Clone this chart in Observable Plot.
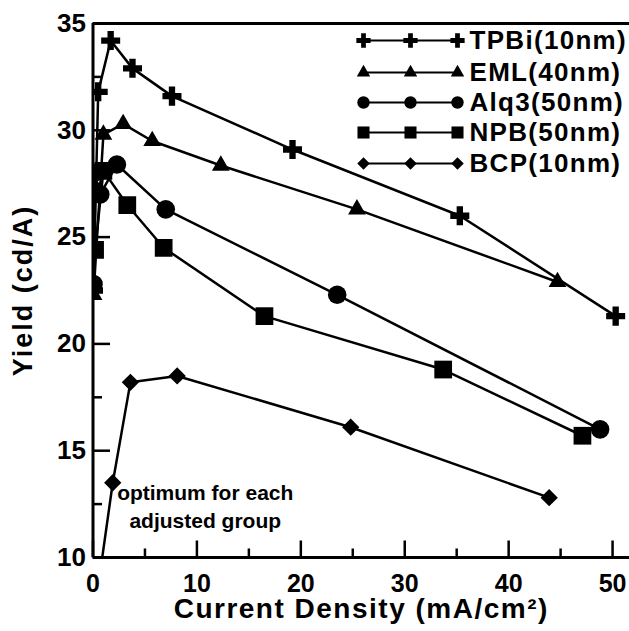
<!DOCTYPE html>
<html><head><meta charset="utf-8">
<script src="https://cdn.jsdelivr.net/npm/d3@7"></script>
<script src="https://cdn.jsdelivr.net/npm/@observablehq/plot@0.6"></script>
<style>
body{margin:0;background:#fff;}
#wrap{width:629px;height:631px;background:#fff;}
</style></head><body><div id="wrap"></div>
<script>
// ---- data ----
const seriesNames = ["TPBi(10nm)", "EML(40nm)", "Alq3(50nm)", "NPB(50nm)", "BCP(10nm)"];

const tpbiX = [0.05, 0.5, 1.7, 3.8, 7.6, 19.2, 35.3, 50.3];
const tpbiY = [22.5, 31.8, 34.2, 32.9, 31.6, 29.1, 26.0, 21.3];

const emlX = [0.05, 1.0, 2.9, 5.7, 12.3, 25.4, 44.7];
const emlY = [22.3, 29.8, 30.3, 29.5, 28.35, 26.3, 22.9];

const alq3X = [0.05, 0.1, 0.7, 2.3, 7.0, 23.5, 48.8];
const alq3Y = [22.8, 28.0, 27.0, 28.4, 26.3, 22.3, 16.0];

const npbX = [0.2, 1.0, 3.3, 6.8, 16.5, 33.7, 47.1];
const npbY = [24.4, 28.1, 26.5, 24.5, 21.3, 18.8, 15.7];

const bcpX = [0.6, 1.9, 3.6, 8.1, 24.8, 43.9];
const bcpY = [9.0, 13.5, 18.2, 18.5, 16.1, 12.8];

const xTickLabels = [0, 10, 20, 30, 40, 50];
const xMinorTicks = [5, 15, 25, 35, 45];
const yTickLabels = [10, 15, 20, 25, 30, 35];
const yMinorTicks = [12.5, 17.5, 22.5, 27.5, 32.5];

const noteX = [10.8];
const noteY = [12.45];
const noteText = ["optimum for each\nadjusted group"];

// ---- layout ----
const W = 629, H = 631, ML = 92.5, MR = 0, MT = 23, MB = 74;
const frameW = W - ML - MR, frameH = H - MT - MB;
const xDomain = [0, 51.63], yDomain = [10, 35];
const xPerPx = (xDomain[1] - xDomain[0]) / frameW;
const yPerPx = (yDomain[1] - yDomain[0]) / frameH;
const pxToX = px => xDomain[0] + (px - ML) * xPerPx;
const pxToY = py => yDomain[0] + (H - MB - py) * yPerPx;
const majorLen = 17, minorLen = 9;
const font = "'Liberation Sans', Arial, Helvetica, sans-serif";

// ---- build ----
const rows = (xs, ys) => xs.map((x, i) => ({x, y: ys[i]}));
const series = [
  {name: seriesNames[0], data: rows(tpbiX, tpbiY), symbol: "cross", r: 8.0, lr: 6.0, rot: 0},
  {name: seriesNames[1], data: rows(emlX, emlY), symbol: "triangle", r: 6.6, lr: 5.0, rot: 0},
  {name: seriesNames[2], data: rows(alq3X, alq3Y), symbol: "circle", r: 9.3, lr: 6.2, rot: 0},
  {name: seriesNames[3], data: rows(npbX, npbY), symbol: "square", r: 10.0, lr: 6.8, rot: 0},
  {name: seriesNames[4], data: rows(bcpX, bcpY), symbol: "square", r: 6.9, lr: 5.0, rot: 45}
];

// legend placement (inside the frame, top right), from pixel layout
const legendKeyPx = [363, 410, 457];
const legendRowPx = [40, 72, 102, 132, 163];
const legendRows = [];
series.forEach((s, i) => legendKeyPx.forEach(px => legendRows.push({series: s.name, x: pxToX(px), y: pxToY(legendRowPx[i])})));
const legendLabels = series.map((s, i) => ({name: s.name, x: pxToX(legendKeyPx[2]), y: pxToY(legendRowPx[i])}));

const tickLinksX = (vals, len) => vals.map(v => ({x1: v, x2: v, y1: yDomain[0], y2: yDomain[0] + len * yPerPx}));
const tickLinksY = (vals, len) => vals.map(v => ({x1: xDomain[0], x2: xDomain[0] + len * xPerPx, y1: v, y2: v}));

const marks = [];
for (const s of series) marks.push(Plot.line(s.data, {x: "x", y: "y", stroke: "black", strokeWidth: 2.5, clip: true}));
for (const s of series) marks.push(Plot.dot(s.data, {x: "x", y: "y", symbol: s.symbol, r: s.r, rotate: s.rot, fill: "black", stroke: "none", clip: true}));

// legend
marks.push(Plot.line(legendRows, {x: "x", y: "y", z: "series", stroke: "black", strokeWidth: 2}));
for (const s of series) marks.push(Plot.dot(legendRows.filter(d => d.series === s.name), {x: "x", y: "y", symbol: s.symbol, r: s.lr, rotate: s.rot, fill: "black", stroke: "none"}));
marks.push(Plot.text(legendLabels, {x: "x", y: "y", text: "name", dx: 12, textAnchor: "start", fontSize: 26}));

marks.push(
  Plot.axisX({ticks: xTickLabels, tickSize: 0, tickPadding: 17, fontSize: 25, label: null}),
  Plot.axisY({ticks: yTickLabels, tickSize: 0, tickPadding: 7, fontSize: 26, label: null}),
  Plot.text(["Yield (cd/A)"], {frameAnchor: "left", textAnchor: "middle", dx: -70, rotate: -90, fontSize: 27}),
  Plot.text(["Current Density (mA/cm²)"], {frameAnchor: "bottom", dy: 60, fontSize: 28}),
  Plot.text(noteText, {x: () => noteX[0], y: () => noteY[0], text: d => d, fontSize: 21, lineHeight: 1.3}),
  // frame (left, top, bottom)
  Plot.ruleX([0], {strokeWidth: 3}),
  Plot.ruleY([10, 35], {strokeWidth: 3}),
  // inward ticks (drawn as links)
  Plot.link(tickLinksX(xTickLabels, majorLen), {x1: "x1", x2: "x2", y1: "y1", y2: "y2", stroke: "black", strokeWidth: 2.5}),
  Plot.link(tickLinksX(xMinorTicks, minorLen), {x1: "x1", x2: "x2", y1: "y1", y2: "y2", stroke: "black", strokeWidth: 2.5}),
  Plot.link(tickLinksY(yTickLabels, majorLen), {x1: "x1", x2: "x2", y1: "y1", y2: "y2", stroke: "black", strokeWidth: 2.5}),
  Plot.link(tickLinksY(yMinorTicks, minorLen), {x1: "x1", x2: "x2", y1: "y1", y2: "y2", stroke: "black", strokeWidth: 2.5})
);

const chart = Plot.plot({
  width: W, height: H,
  marginLeft: ML, marginRight: MR, marginTop: MT, marginBottom: MB,
  x: {domain: xDomain},
  y: {domain: yDomain},
  style: {fontFamily: font, fontWeight: "bold", fontSize: "25px", color: "black", background: "white", overflow: "visible"},
  marks
});
chart.querySelectorAll("text").forEach(t => {
  const s = t.textContent;
  if (s === "Current Density (mA/cm²)") t.style.letterSpacing = "1.5px";
  if (s === "Yield (cd/A)") t.style.letterSpacing = "2px";
  if (seriesNames.includes(s)) t.style.letterSpacing = "1.3px";
});
document.getElementById("wrap").appendChild(chart);
</script></body></html>
